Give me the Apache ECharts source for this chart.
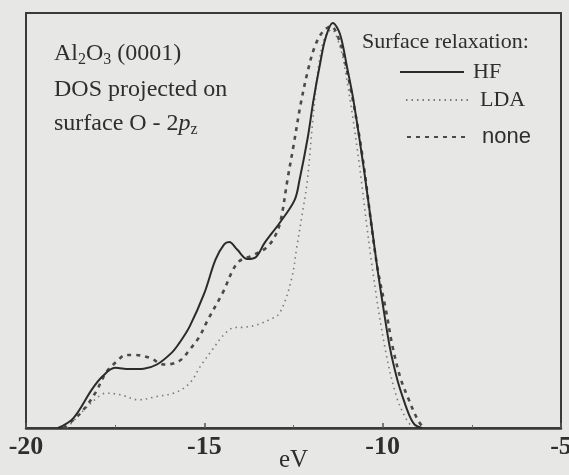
<!DOCTYPE html>
<html>
<head>
<meta charset="utf-8">
<script src="https://cdn.jsdelivr.net/npm/echarts@6/dist/echarts.min.js"></script>
<style>
  html, body { margin: 0; padding: 0; background: #e7e7e5; }
  #chart { width: 569px; height: 475px; }
</style>
</head>
<body>
<div id="chart"></div>
<script>
// x-axis (eV) tick labels
var xTicks = [-20, -15, -10, -5];

// HF (solid)
var hfEnergy = [-19.1, -18.67, -18.16, -17.86, -17.5, -17.1, -16.7, -16.33, -15.92, -15.70, -15.41, -15.0, -14.69, -14.45, -14.30, -14.08, -13.79, -13.55, -13.31, -12.89, -12.47, -12.33, -12.1, -11.94, -11.75, -11.6, -11.40, -11.2, -11.0, -10.82, -10.51, -10.17, -10.0, -9.80, -9.60, -9.44, -9.25, -9.10, -8.9];
var hfDos    = [0, 2.4, 9.2, 12.4, 14.5, 14.2, 14.3, 15.3, 18.1, 20.5, 24.5, 32.5, 40.5, 44.2, 44.8, 43.0, 40.7, 41.2, 44.6, 49.4, 54.9, 59.8, 70, 79, 88, 94, 97.6, 95, 87, 79, 61.4, 39.8, 30, 19.5, 12, 7.5, 3, 0.8, 0];

// LDA (dotted)
var ldaEnergy = [-18.85, -18.37, -17.96, -17.76, -17.35, -16.84, -16.33, -15.82, -15.41, -15.10, -14.78, -14.45, -14.16, -13.85, -13.55, -13.2, -12.89, -12.56, -12.40, -12.25, -12.11, -11.95, -11.80, -11.63, -11.43, -11.2, -11.02, -10.71, -10.31, -9.94, -9.61, -9.33, -9.15];
var ldaDos    = [0, 4.4, 7.6, 8.4, 8.0, 6.8, 7.6, 8.5, 10.8, 15.0, 18.8, 22.5, 24.2, 24.3, 24.8, 26.0, 27.7, 35.7, 44, 51.8, 59.8, 75, 87, 94, 96, 92, 84.7, 67.1, 39.8, 19.5, 7.5, 2, 0];

// none (dashed)
var noneEnergy = [-18.95, -18.47, -18.06, -17.76, -17.45, -17.2, -16.94, -16.53, -16.12, -15.71, -15.40, -15.14, -14.90, -14.49, -14.07, -13.67, -13.27, -13.03, -12.86, -12.67, -12.50, -12.30, -12.1, -11.9, -11.68, -11.45, -11.2, -11.02, -10.61, -10.17, -9.90, -9.72, -9.50, -9.30, -9.02, -8.85];
var noneDos    = [0, 3.6, 8.4, 13.3, 16.1, 17.6, 17.6, 16.9, 15.3, 16.1, 19.0, 22.0, 26.1, 32.5, 39.8, 41.5, 43.4, 46.0, 50.0, 59.8, 68, 78, 86, 92, 95.5, 96.8, 93, 87, 67.9, 39.8, 28, 19.5, 12, 7.5, 2, 0];

function pairs(xs, ys) { return xs.map(function (x, i) { return [x, ys[i]]; }); }

var serif = '"Liberation Serif", "DejaVu Serif", serif';
var sans = '"Liberation Sans", Arial, sans-serif';
var ink = '#2e2e2e';

var legendCommon = { orient: 'horizontal', itemHeight: 14, padding: 0, itemGap: 0,
  itemStyle: { opacity: 0 } };

var chart = echarts.init(document.getElementById('chart'), null, { renderer: 'canvas' });
chart.setOption({
  backgroundColor: '#e7e7e5',
  animation: false,
  grid: { left: 26, right: 8, top: 13, bottom: 47, containLabel: false, outerBoundsMode: 'none',
    show: true, borderColor: '#3a3a3a', borderWidth: 2, backgroundColor: 'transparent' },
  xAxis: {
    type: 'value', min: -20, max: -5, interval: 5,
    axisLine: { show: true, lineStyle: { color: '#3a3a3a', width: 2.5 } },
    axisTick: { show: true, inside: true, length: 5, lineStyle: { color: '#555', width: 1.5 } },
    minorTick: { show: true, splitNumber: 2, length: 3, lineStyle: { color: '#666' } },
    splitLine: { show: false },
    axisLabel: { color: ink, fontFamily: serif, fontSize: 26, fontWeight: 'bold', margin: 6,
      formatter: function (v) { return xTicks.indexOf(v) >= 0 ? String(v) : ''; } },
    name: 'eV', nameLocation: 'middle', nameGap: 20, nameMoveOverlap: false,
    nameTextStyle: { color: ink, fontFamily: serif, fontSize: 25, verticalAlign: 'top' }
  },
  yAxis: {
    type: 'value', min: 0, max: 100,
    axisLine: { show: true, lineStyle: { color: '#3a3a3a', width: 2 } },
    axisTick: { show: false }, axisLabel: { show: false }, splitLine: { show: false }
  },
  legend: [
    Object.assign({ data: ['HF'], left: 399, top: 61, itemWidth: 64,
      textStyle: { color: ink, fontFamily: serif, fontSize: 22, padding: [0, 0, 0, 4] } }, legendCommon),
    Object.assign({ data: ['LDA'], left: 405, top: 89, itemWidth: 63,
      textStyle: { color: ink, fontFamily: serif, fontSize: 22, padding: [0, 0, 0, 6] } }, legendCommon),
    Object.assign({ data: ['none'], left: 406, top: 126, itemWidth: 60,
      textStyle: { color: ink, fontFamily: sans, fontSize: 22, padding: [0, 0, 0, 10] } }, legendCommon)
  ],
  graphic: [
    { type: 'text', left: 362, top: 31, style: { text: 'Surface relaxation:', fill: ink, font: '22px ' + serif } },
    { type: 'text', left: 54, top: 42, style: {
        text: 'Al{s|2}O{s|3} (0001)', fill: ink, font: '24px ' + serif,
        rich: { s: { fontSize: 16, fontFamily: serif, fill: ink, padding: [12, 0, 0, 0] } } } },
    { type: 'text', left: 54, top: 78, style: { text: 'DOS projected on', fill: ink, font: '24px ' + serif } },
    { type: 'text', left: 54, top: 112, style: {
        text: 'surface O - 2{i|p}{s|z}', fill: ink, font: '24px ' + serif,
        rich: { i: { fontStyle: 'italic', fontSize: 24, fontFamily: serif, fill: ink },
                s: { fontSize: 16, fontFamily: serif, fill: ink, padding: [12, 0, 0, 0] } } } }
  ],
  series: [
    { name: 'HF', type: 'line', data: pairs(hfEnergy, hfDos), smooth: 0.35, symbol: 'none',
      lineStyle: { color: '#2b2b2b', width: 2, type: 'solid' }, itemStyle: { color: '#2b2b2b' }, z: 3 },
    { name: 'LDA', type: 'line', data: pairs(ldaEnergy, ldaDos), smooth: 0.35, symbol: 'none',
      lineStyle: { color: '#7a7a7a', width: 1.6, type: [1.5, 4] }, itemStyle: { color: '#7a7a7a' }, z: 2 },
    { name: 'none', type: 'line', data: pairs(noneEnergy, noneDos), smooth: 0.35, symbol: 'none',
      lineStyle: { color: '#4a4a4a', width: 2.6, type: [4, 5] }, itemStyle: { color: '#4a4a4a' }, z: 2 }
  ]
});
</script>
</body>
</html>
